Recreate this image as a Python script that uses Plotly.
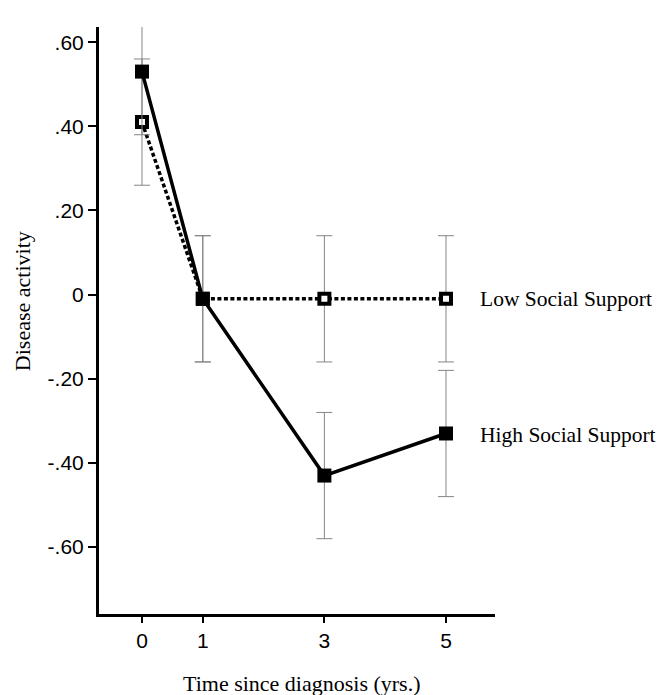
import plotly.graph_objects as go

# ---- data ----
years = [0, 1, 3, 5]
high_support = [0.53, -0.01, -0.43, -0.33]
high_err = [0.15, 0.15, 0.15, 0.15]
low_support = [0.41, -0.01, -0.01, -0.01]
low_err = [0.15, 0.15, 0.15, 0.15]
series_names = ["High Social Support", "Low Social Support"]

y_tickvals = [0.6, 0.4, 0.2, 0, -0.2, -0.4, -0.6]
y_ticktext = [".60", ".40", ".20", "0", "-.20", "-.40", "-.60"]
x_tickvals = [0, 1, 3, 5]
x_ticktext = ["0", "1", "3", "5"]

x_title = "Time since diagnosis (yrs.)"
y_title = "Disease activity"

SANS = "Liberation Sans, Arial, sans-serif"
SERIF = "Liberation Serif, Times New Roman, serif"
ERR_COLOR = "#858585"

fig = go.Figure()

# Low social support (dotted, open squares)
fig.add_trace(go.Scatter(
    x=years, y=low_support, mode="lines+markers", name=series_names[1],
    line=dict(color="black", width=3.5, dash="4px,2.5px"),
    marker=dict(symbol="square", size=10, color="white",
                line=dict(color="black", width=4)),
    error_y=dict(type="data", array=low_err, visible=True,
                 color=ERR_COLOR, thickness=1, width=8),
    showlegend=False,
))

# High social support (solid, filled squares)
fig.add_trace(go.Scatter(
    x=years, y=high_support, mode="lines+markers", name=series_names[0],
    line=dict(color="black", width=3.5),
    marker=dict(symbol="square", size=14, color="black",
                line=dict(color="black", width=0)),
    error_y=dict(type="data", array=high_err, visible=True,
                 color=ERR_COLOR, thickness=1, width=8),
    showlegend=False,
))

# series labels at the right end of each line
fig.add_annotation(x=years[-1], y=low_support[-1], xref="x", yref="y",
                   text=series_names[1], showarrow=False, xanchor="left",
                   yanchor="middle", xshift=32,
                   font=dict(family=SERIF, size=21.5, color="black"))
fig.add_annotation(x=years[-1], y=high_support[-1], xref="x", yref="y",
                   text=series_names[0], showarrow=False, xanchor="left",
                   yanchor="middle", xshift=32, yshift=-2,
                   font=dict(family=SERIF, size=21.5, color="black"))

# axis titles
fig.add_annotation(x=0.513, y=0, xref="paper", yref="paper", text=x_title,
                   showarrow=False, xanchor="center", yanchor="middle",
                   yshift=-69, font=dict(family=SERIF, size=22, color="black"))
fig.add_annotation(x=0, y=0.533, xref="paper", yref="paper", text=y_title,
                   showarrow=False, xanchor="center", yanchor="middle",
                   textangle=-90, xshift=-77,
                   font=dict(family=SERIF, size=22, color="black"))

# the page body has an 8px margin; size the figure so the plot lands
# where it does in the reference
fig.update_layout(
    width=656, height=687,
    margin=dict(l=91, r=169, t=19, b=81),
    paper_bgcolor="white", plot_bgcolor="white",
    showlegend=False,
    xaxis=dict(range=[-0.707, 5.806], tickmode="array",
               tickvals=x_tickvals, ticktext=x_ticktext,
               showgrid=False, zeroline=False,
               showline=True, linecolor="black", linewidth=3,
               ticks="outside", ticklen=6, tickwidth=2, tickcolor="black",
               tickfont=dict(family=SANS, size=21, color="black")),
    yaxis=dict(range=[-0.759, 0.636], tickmode="array",
               tickvals=y_tickvals, ticktext=y_ticktext,
               showgrid=False, zeroline=False,
               showline=True, linecolor="black", linewidth=3,
               ticks="outside", ticklen=8, tickwidth=2, tickcolor="black",
               tickfont=dict(family=SANS, size=21, color="black")),
)

fig.write_html("out.html")
